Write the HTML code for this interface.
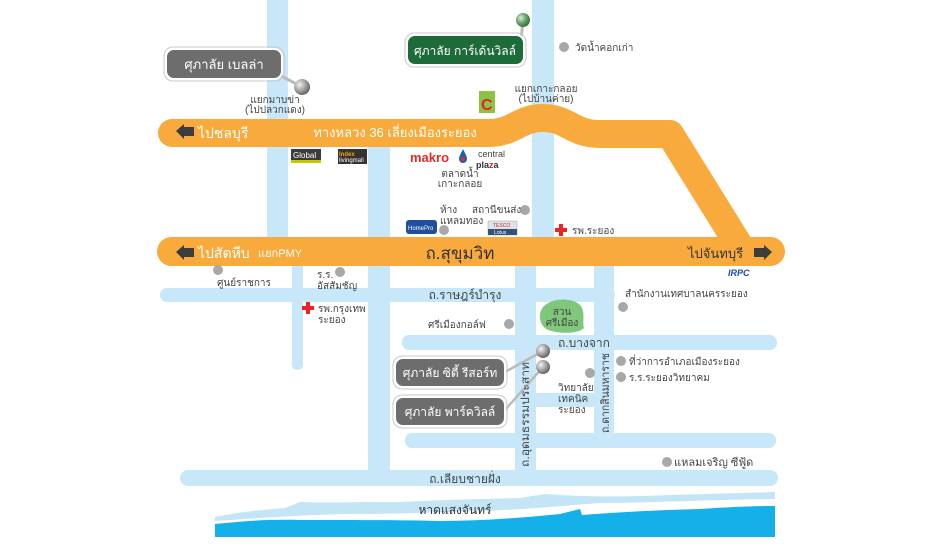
<!DOCTYPE html>
<html><head><meta charset="utf-8"><style>
html,body{margin:0;padding:0;background:#fff;width:940px;height:557px;overflow:hidden}
svg{display:block}
text{font-family:"Liberation Sans","DejaVu Sans",sans-serif}
</style></head><body>
<svg width="940" height="557" viewBox="0 0 940 557" xmlns="http://www.w3.org/2000/svg">
<defs>
<radialGradient id="sg" cx="0.35" cy="0.35" r="0.7"><stop offset="0" stop-color="#f2f2f2"/><stop offset="0.5" stop-color="#a9a9a9"/><stop offset="1" stop-color="#5e5e5e"/></radialGradient>
<radialGradient id="gg" cx="0.35" cy="0.35" r="0.7"><stop offset="0" stop-color="#d8ecd8"/><stop offset="0.5" stop-color="#6fa66f"/><stop offset="1" stop-color="#2f6d38"/></radialGradient>
</defs>
<g fill="#c8e7f8">
<rect x="267" y="0" width="21" height="262"/>
<rect x="292" y="255" width="11" height="115" rx="5"/>
<rect x="368" y="140" width="22" height="334"/>
<rect x="532" y="0" width="22" height="250"/>
<rect x="515" y="255" width="21" height="215"/>
<rect x="594" y="255" width="20" height="180"/>
<rect x="160" y="288" width="455" height="14" rx="7"/>
<rect x="402" y="335" width="375" height="15" rx="7"/>
<rect x="536" y="393" width="60" height="14"/>
<rect x="405" y="433" width="371" height="15" rx="7"/>
<rect x="180" y="470" width="598" height="16" rx="8"/>
</g>
<!-- beach -->
<path d="M215,517 C240,512 260,510 285,508 L300,502 C330,503 360,502 400,502 C440,500 480,499 520,498 L545,494 C570,496 600,497 640,496 C700,494 740,493 775,492 L775,537 L215,537 Z" fill="#c4e5f5"/>
<path d="M215,521 C260,518 300,515 350,514 C400,514 440,512 480,511 C520,510 560,506 600,503 C650,503 700,500 775,499 L775,537 L215,537 Z" fill="#fff"/>
<path d="M215,524 C240,522 260,519 300,520 C360,520 400,520 440,521 C480,521 520,518 560,514 L580,509 L582,515 C620,512 660,510 700,509 C730,507 750,506 775,506 L775,537 L215,537 Z" fill="#14b0ea"/>
<text x="455" y="514" font-size="12" fill="#333" text-anchor="middle">หาดแสงจันทร์</text>
<!-- orange roads -->
<path d="M172,133 L488,133 C515,133 518,118 543,118 C568,118 572,134 600,134 L670,134 L742,250" fill="none" stroke="#f8ab3c" stroke-width="28" stroke-linejoin="round" stroke-linecap="round"/>
<rect x="157" y="237" width="628" height="29" rx="14.5" fill="#f8ab3c"/>
<path d="M176,131 L184,124 L184,127 L194,127 L194,136 L184,136 L184,139 Z" fill="#3c3c3c"/>
<text x="198" y="138" font-size="14" fill="#fff">ไปชลบุรี</text>
<text x="395" y="137" font-size="13" fill="#fff" text-anchor="middle">ทางหลวง 36 เลี่ยงเมืองระยอง</text>
<path d="M176,252 L184,245 L184,248 L194,248 L194,257 L184,257 L184,260 Z" fill="#3c3c3c"/>
<text x="198" y="258" font-size="14" fill="#fff">ไปสัตหีบ</text>
<text x="258" y="257" font-size="11" fill="#fff">แยกPMY</text>
<text x="460" y="259" font-size="17" fill="#333" text-anchor="middle">ถ.สุขุมวิท</text>
<text x="688" y="258" font-size="13" fill="#333">ไปจันทบุรี</text>
<path d="M772,252 L764,245 L764,248 L754,248 L754,257 L764,257 L764,260 Z" fill="#3c3c3c"/>
<!-- callouts -->
<line x1="270" y1="70" x2="302" y2="87" stroke="#bbb" stroke-width="3"/>
<rect x="166" y="49" width="116" height="30" rx="8" fill="#6d6d6d" stroke="#fff" stroke-width="2"/>
<rect x="164" y="47" width="120" height="34" rx="9" fill="none" stroke="#c9c9c9" stroke-width="1"/>
<text x="224" y="69" font-size="13" fill="#fff" text-anchor="middle">ศุภาลัย เบลล่า</text>
<circle cx="302" cy="87" r="8" fill="url(#sg)"/>
<text x="275" y="103" font-size="10" fill="#444" text-anchor="middle">แยกมาบข่า</text>
<text x="275" y="113" font-size="10" fill="#444" text-anchor="middle">(ไปปลวกแดง)</text>
<line x1="520" y1="50" x2="523" y2="20" stroke="#bbb" stroke-width="3"/>
<rect x="407" y="35" width="117" height="30" rx="8" fill="#1e6b3a" stroke="#fff" stroke-width="2"/>
<rect x="405" y="33" width="121" height="34" rx="9" fill="none" stroke="#c9c9c9"/>
<text x="465" y="55" font-size="12" fill="#fff" text-anchor="middle">ศุภาลัย การ์เด้นวิลล์</text>
<circle cx="523" cy="20" r="7" fill="url(#gg)"/>
<circle cx="564" cy="47" r="5" fill="#a8a8a8"/>
<text x="575" y="51" font-size="10" fill="#444">วัดน้ำคอกเก่า</text>
<rect x="479" y="91" width="16" height="22" fill="#8bc540"/>
<text x="481" y="110" font-size="16" font-weight="bold" fill="#e5202a">C</text>
<text x="546" y="92" font-size="10" fill="#444" text-anchor="middle">แยกเกาะกลอย</text>
<text x="546" y="102" font-size="10" fill="#444" text-anchor="middle">(ไปบ้านค่าย)</text>
<rect x="291" y="149" width="30" height="14" fill="#3b3b3b"/>
<rect x="291" y="160" width="30" height="3" fill="#c8c800"/>
<text x="293" y="158" font-size="8" fill="#fff">Global</text>
<rect x="338" y="149" width="29" height="15" fill="#333"/>
<text x="339" y="156" font-size="6" font-weight="bold" fill="#f7a400">Index</text>
<text x="339" y="162" font-size="6" fill="#fff">livingmall</text>
<text x="410" y="162" font-size="13" font-weight="bold" fill="#e22a2a">makro</text>
<path d="M463,149 C460,155 459,157 459,159 A4,4 0 0 0 467,159 C467,157 466,155 463,149 Z" fill="#1f5fb0"/>
<circle cx="463" cy="159" r="2" fill="#e22a2a"/>
<text x="478" y="157" font-size="9" fill="#444">central</text>
<text x="476" y="168" font-size="9" font-weight="bold" fill="#333">pla<tspan fill="#d22">z</tspan>a</text>
<text x="460" y="177" font-size="10" fill="#444" text-anchor="middle">ตลาดน้ำ</text>
<text x="460" y="187" font-size="10" fill="#444" text-anchor="middle">เกาะกลอย</text>
<text x="440" y="213" font-size="10" fill="#444">ห้าง</text>
<text x="440" y="224" font-size="10" fill="#444">แหลมทอง</text>
<circle cx="444" cy="230" r="5" fill="#a8a8a8"/>
<rect x="406" y="220" width="31" height="14" rx="3" fill="#1d4f9c"/>
<text x="408" y="230" font-size="6" fill="#fff">HomePro</text>
<text x="472" y="213" font-size="10" fill="#444">สถานีขนส่ง</text>
<circle cx="525" cy="210" r="5" fill="#a8a8a8"/>
<rect x="488" y="221" width="29" height="14" fill="#dde3ea" stroke="#9aa" stroke-width="0.5"/>
<text x="493" y="227" font-size="5" fill="#d22">TESCO</text>
<rect x="488" y="229" width="29" height="6" fill="#35507a"/>
<text x="494" y="234" font-size="5" fill="#fff">Lotus</text>
<path d="M559,224 h4 v4 h4 v4 h-4 v4 h-4 v-4 h-4 v-4 h4 Z" fill="#e22"/>
<text x="572" y="234" font-size="10" fill="#444">รพ.ระยอง</text>
<text x="728" y="276" font-size="9" font-weight="bold" font-style="italic" fill="#1b4aa8">IRPC</text>
<circle cx="218" cy="270" r="5" fill="#a8a8a8"/>
<text x="244" y="286" font-size="10" fill="#444" text-anchor="middle">ศูนย์ราชการ</text>
<text x="317" y="278" font-size="10" fill="#444">ร.ร.</text>
<circle cx="340" cy="272" r="5" fill="#a8a8a8"/>
<text x="317" y="289" font-size="10" fill="#444">อัสสัมชัญ</text>
<path d="M306,302 h4 v4 h4 v4 h-4 v4 h-4 v-4 h-4 v-4 h4 Z" fill="#e22"/>
<text x="318" y="312" font-size="10" fill="#444">รพ.กรุงเทพ</text>
<text x="318" y="323" font-size="10" fill="#444">ระยอง</text>
<text x="465" y="299" font-size="12" fill="#444" text-anchor="middle">ถ.ราษฎร์บำรุง</text>
<text x="428" y="328" font-size="10" fill="#444">ศรีเมืองกอล์ฟ</text>
<circle cx="509" cy="324" r="5" fill="#a8a8a8"/>
<path d="M544,306 C552,298 572,297 580,305 C586,312 582,322 584,328 C578,334 560,334 548,330 C538,325 538,312 544,306 Z" fill="#7fc77a"/>
<text x="562" y="315" font-size="10" fill="#444" text-anchor="middle">สวน</text>
<text x="562" y="326" font-size="10" fill="#444" text-anchor="middle">ศรีเมือง</text>
<text x="625" y="297" font-size="10" fill="#444">สำนักงานเทศบาลนครระยอง</text>
<circle cx="623" cy="307" r="5" fill="#a8a8a8"/>
<text x="558" y="347" font-size="12" fill="#444">ถ.บางจาก</text>
<line x1="505" y1="372" x2="543" y2="351" stroke="#bbb" stroke-width="2.5"/>
<line x1="505" y1="410" x2="543" y2="367" stroke="#bbb" stroke-width="2.5"/>
<rect x="395" y="358" width="110" height="29" rx="8" fill="#6d6d6d" stroke="#fff" stroke-width="2"/>
<rect x="393" y="356" width="114" height="33" rx="9" fill="none" stroke="#c9c9c9"/>
<text x="450" y="377" font-size="12" fill="#fff" text-anchor="middle">ศุภาลัย ซิตี้ รีสอร์ท</text>
<rect x="395" y="397" width="110" height="29" rx="8" fill="#6d6d6d" stroke="#fff" stroke-width="2"/>
<rect x="393" y="395" width="114" height="33" rx="9" fill="none" stroke="#c9c9c9"/>
<text x="450" y="416" font-size="12" fill="#fff" text-anchor="middle">ศุภาลัย พาร์ควิลล์</text>
<circle cx="543" cy="351" r="7" fill="url(#sg)"/>
<circle cx="543" cy="367" r="7" fill="url(#sg)"/>
<circle cx="590" cy="373" r="5" fill="#a8a8a8"/>
<text x="558" y="391" font-size="10" fill="#444">วิทยาลัย</text>
<text x="558" y="402" font-size="10" fill="#444">เทคนิค</text>
<text x="558" y="413" font-size="10" fill="#444">ระยอง</text>
<circle cx="621" cy="361" r="5" fill="#a8a8a8"/>
<text x="629" y="365" font-size="10" fill="#444">ที่ว่าการอำเภอเมืองระยอง</text>
<circle cx="621" cy="377" r="5" fill="#a8a8a8"/>
<text x="629" y="381" font-size="10" fill="#444">ร.ร.ระยองวิทยาคม</text>
<text transform="translate(529,467) rotate(-90)" font-size="11" fill="#444" textLength="105" lengthAdjust="spacingAndGlyphs">ถ.อุดมธรรมประสาท</text>
<text transform="translate(609,433) rotate(-90)" font-size="11" fill="#444" textLength="80" lengthAdjust="spacingAndGlyphs">ถ.ดากสินมหาราช</text>
<circle cx="667" cy="462" r="5" fill="#a8a8a8"/>
<text x="674" y="466" font-size="11" fill="#444">แหลมเจริญ ซีฟู้ด</text>
<text x="465" y="483" font-size="12" fill="#444" text-anchor="middle">ถ.เลียบชายฝั่ง</text>
</svg>
</body></html>
